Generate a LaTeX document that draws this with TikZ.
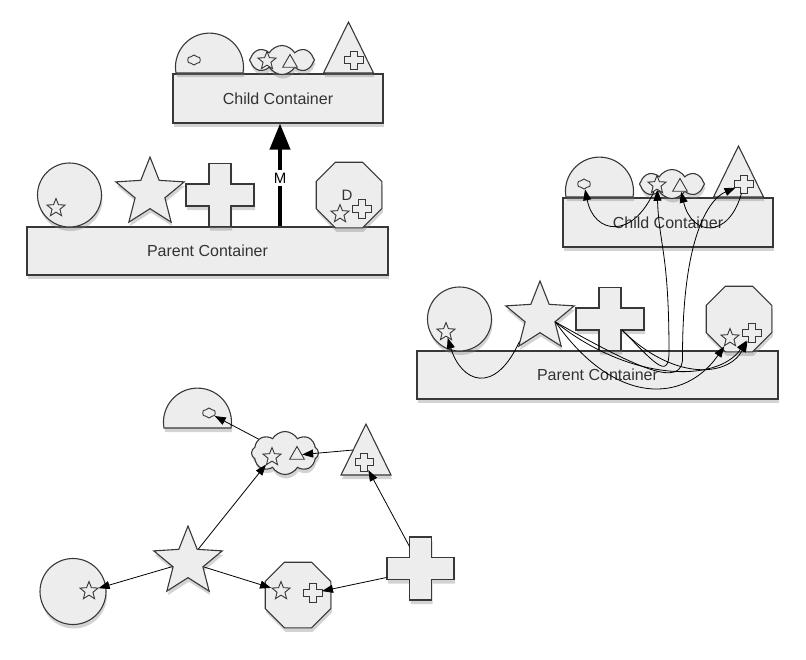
\documentclass[tikz,border=0pt]{standalone}
\usepackage{fontspec}
\setmainfont{Liberation Sans}
\usepackage{tikz}
\usetikzlibrary{calc,arrows.meta,shadows,shapes.geometric,shapes.symbols}
\definecolor{shapegrey}{gray}{0.93}
\definecolor{edgegrey}{gray}{0.22}

\begin{document}
\begin{tikzpicture}[x=1pt,y=-1pt]

\tikzset{greyshape/.style={draw=edgegrey,fill=shapegrey,line width=1.1pt,drop shadow={opacity=0.35,shadow xshift=1pt,shadow yshift=-4pt}},
container/.style={greyshape,shape=rectangle,inner sep=0pt,text=black!80,font=\fontsize{16}{19}\selectfont},
tinyshape/.style={draw=edgegrey,fill=shapegrey,line width=0.9pt,inner sep=0pt},
bigstar/.style={greyshape,shape=star,star points=5,star point ratio=2.3,inner sep=0pt,minimum size=72pt},
tinystar/.style={tinyshape,shape=star,star points=5,star point ratio=2.3,minimum size=19pt},
tinytri/.style={tinyshape,shape=regular polygon,regular polygon sides=3,minimum size=17pt},
tinycloud/.style={tinyshape,shape=cloud,cloud puffs=6,cloud puff arc=120,cloud ignores aspect,minimum width=13pt,minimum height=10pt},
bigcloud/.style={greyshape,shape=cloud,cloud puffs=8,cloud puff arc=120,cloud ignores aspect,inner sep=0pt},
roundshape/.style={greyshape,shape=circle,inner sep=0pt,minimum size=64pt},
octshape/.style={greyshape,shape=regular polygon,regular polygon sides=8,inner sep=0pt,minimum size=71pt},
hit/.style={shape=circle,inner sep=0pt,minimum size=#1},
plusmark/.style n args={3}{insert path={++(-#3,-#2) -- ++(2*#3,0) -- ++(0,#2-#3) -- ++(#1-#3,0) -- ++(0,2*#3) -- ++(-#1+#3,0) -- ++(0,#2-#3) -- ++(-2*#3,0) -- ++(0,-#2+#3) -- ++(-#1+#3,0) -- ++(0,-2*#3) -- ++(#1-#3,0) -- cycle}},
domemark/.style={insert path={++(-33.5,0) arc[start angle=170,end angle=370,radius=34] -- cycle}},
trimark/.style={insert path={++(-25,0) -- ++(50,0) -- ++(-25,-51) -- cycle}},
link/.style={draw=black,line width=0.8pt,-{Triangle[length=11pt,width=8pt]}},
bigarrow/.style={draw=black,line width=4pt,-{Triangle[length=26pt,width=20pt]}},
mlabel/.style={fill=white,inner sep=0pt,minimum width=27pt,minimum height=16pt,font=\fontsize{15}{17}\selectfont}}

\useasboundingbox (0,0) rectangle (806,659);

% Containers with their shapes: (a) moved, (b) linked
\foreach \p/\dx/\dy in {a/0/0,b/390/124}{
\begin{scope}[shift={(\dx,\dy)}]
\node[container,minimum width=210pt,minimum height=49pt] (\p-child) at (278,98.5) {Child Container};
\node[container,minimum width=361pt,minimum height=48pt] (\p-par) at (207.5,251) {Parent Container};

% child shapes
\path[greyshape] (209.5,73) [domemark];
\node[tinycloud] (\p-domecloud) at (194,60) {};
\node[bigcloud,minimum width=65pt,minimum height=29pt] (\p-cloud) at (282,60) {};
\node[tinystar] (\p-cloudstar) at (267,61) {};
\node[tinytri] (\p-cloudtri) at (290,63) {};
\path[greyshape] (348.5,73) [trimark];
\node[hit=18pt] (\p-triplus) at (354,60) {};
\path[tinyshape] (\p-triplus) [plusmark={9.5}{9}{3.5}];

% parent shapes
\node[roundshape] (\p-circ) at (69.5,195) {};
\node[tinystar] (\p-circstar) at (56,208) {};
\node[bigstar] (\p-star) at (150,193) {};
\coordinate (\p-plus) at (220,195);
\path[greyshape] (\p-plus) [plusmark={34}{31.5}{11}];
\node[octshape] (\p-oct) at (349,195) {};
\node[tinystar] (\p-octstar) at (340,214) {};
\node[hit=18pt] (\p-octplus) at (362,209) {};
\path[tinyshape] (\p-octplus) [plusmark={9.5}{9.5}{3.5}];
\end{scope}
}

% Move arrow
\coordinate (a-m) at (280,178);
\draw[bigarrow] (a-m |- a-par.north) -- (a-m |- a-child.south);
\node[mlabel] (a-mlbl) at (a-m) {M};
\node[font=\fontsize{15}{17}\selectfont,text=black!80] (a-d) at (347,195) {D};

% Free shapes
\path[greyshape] (197.5,428) [domemark];
\node[tinycloud] (c-domecloud) at (209,413) {};
\node[bigcloud,minimum width=67pt,minimum height=43pt] (c-cloud) at (285,453) {};
\node[tinystar] (c-cloudstar) at (272,457) {};
\node[tinytri] (c-cloudtri) at (297,455) {};
\coordinate (c-tri) at (366,475);
\path[greyshape] (c-tri) [trimark];
\node[hit=18pt] (c-triplus) at (364,462) {};
\path[tinyshape] (c-triplus) [plusmark={9}{9}{3.5}];
\node[bigstar] (c-star) at (188,562) {};
\node[roundshape,minimum size=66pt] (c-circ) at (73,591.5) {};
\node[tinystar] (c-circstar) at (89,591) {};
\node[octshape] (c-oct) at (298,595) {};
\node[tinystar] (c-octstar) at (281,591) {};
\node[hit=18pt] (c-octplus) at (313,593) {};
\path[tinyshape] (c-octplus) [plusmark={9.5}{9.5}{3.5}];
\coordinate (c-plus) at (420.5,568.5);
\path[greyshape] (c-plus) [plusmark={33.5}{31.5}{11}];

% Edges, linked containers
\draw[link] (b-star.230) .. controls +(-25,55) and +(15,50) .. (b-circstar);
\draw[link] (b-star.-18) .. controls +(80,45) and +(2,35) .. ++(127,34) .. controls +(0,-120) and +(-35,15) .. (b-triplus);
\draw[link] ($(b-plus)+(12,11)$) .. controls +(30,30) and +(0,30) .. ++(47,22) .. controls +(0,-100) and +(2,60) .. (b-cloudstar);
\draw[link] (b-star.-18) .. controls +(60,85) and +(-45,65) .. (b-octstar);
\draw[link] (b-star.-18) .. controls +(75,60) and +(-35,50) .. (b-octplus);
\draw[link] ($(b-plus)+(12,11)$) .. controls +(50,50) and +(-25,45) .. (b-octplus);
\draw[link] (b-cloudstar) .. controls +(-25,55) and +(10,50) .. (b-domecloud);
\draw[link] (b-triplus) .. controls +(-15,55) and +(12,50) .. (b-cloudtri);

% Edges, free shapes
\draw[link] (c-star) -- (c-circstar);
\draw[link] (c-star) -- (c-octstar);
\draw[link] (c-star) -- (c-cloudstar);
\draw[link] (c-cloud) -- (c-domecloud);
\draw[link] ($(c-tri)+(-13,-25)$) -- (c-cloudtri);
\draw[link] ($(c-plus)+(-11,-22)$) -- (c-triplus);
\draw[link] ($(c-plus)+(-34,9)$) -- (c-octplus);

\end{tikzpicture}
\end{document}
